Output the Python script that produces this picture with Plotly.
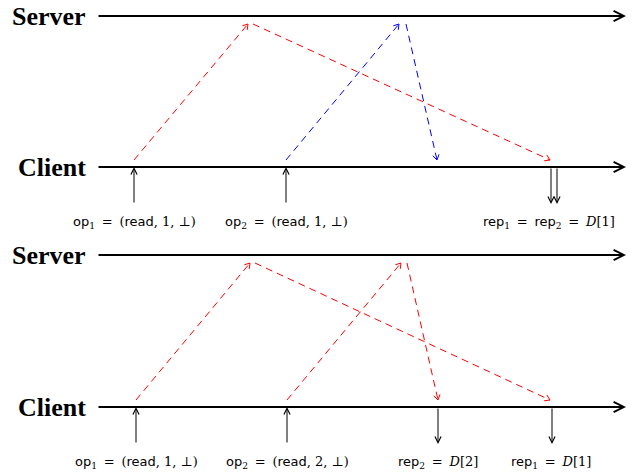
import numpy as np
import plotly.graph_objects as go

W, H = 639, 473

# ---- diagram data (two panels) ----
lanes = ["Server", "Client"]
lane_start = 97
lane_end = 626
server_y = [16, 255]
client_y = [167, 407]

# message events per panel: client send time, server receive, server send, client receive
send_t = [[134, 286], [136, 287]]
srv_recv_t = [[248, 399], [250, 401]]
srv_send_t = [[253, 406], [255, 407]]
cli_recv_t = [[550, 437], [550, 438]]
msg_colors = [["red", "blue"], ["red", "red"]]

op_index = [["1", "2"], ["1", "2"]]
op_value = [["1", "1"], ["1", "2"]]
rep_t = [[551, 557], [438, 552]]
rep_parts = [
    [(["1", "2"], "1", 549)],
    [(["2"], "2", 438), (["1"], "1", 551)],
]

SANS = "DejaVu Sans"
SERIF = "DejaVu Serif"
FS = 13

def sans(t):
    return f"<span style='font-family:{SANS}'>{t}</span>"

def serif(t):
    return f"<span style='font-family:{SERIF}'>{t}</span>"

EQ = serif("\u2009= \u2009")

def op_label(i, v):
    return sans("op") + serif(f"<sub>{i}</sub>") + " " + EQ + serif("(") + sans("read") + serif(f", {v}, \u22a5)")

def rep_label(idx, d):
    parts = [sans("rep") + serif(f"<sub>{k}</sub>") for k in idx]
    return (" " + EQ).join(parts) + " " + EQ + serif(f"<i>D</i>[{d}]")

fig = go.Figure()
ann = []

def arrow(x0, y0, x1, y1, color="black", width=1, size=1.2, head=5):
    ann.append(dict(x=x1, y=y1, ax=x0, ay=y0, xref="x", yref="y", axref="x", ayref="y",
                    showarrow=True, arrowhead=head, arrowsize=size, arrowwidth=width,
                    arrowcolor=color, standoff=0, startstandoff=0, text=""))

def dashed_arrow(x0, y0, x1, y1, color):
    fig.add_trace(go.Scatter(x=[x0, x1], y=[y0, y1], mode="lines",
                             line=dict(color=color, width=1, dash="7px,5px"),
                             hoverinfo="skip", showlegend=False))
    v = np.array([x1 - x0, y1 - y0], float)
    v /= np.linalg.norm(v)
    n = np.array([-v[1], v[0]])
    L, Wd = 5.0, 3.2
    a = np.array([x1, y1]) - L * v + Wd * n
    b = np.array([x1, y1]) - L * v - Wd * n
    fig.add_trace(go.Scatter(x=[a[0], x1, b[0]], y=[a[1], y1, b[1]], mode="lines",
                             line=dict(color=color, width=1),
                             hoverinfo="skip", showlegend=False))

gap_c, gap_s, tick = 7, 8, 37
for p in range(2):
    sy, cy = server_y[p], client_y[p]
    for name, yy in zip(lanes, [sy, cy]):
        arrow(lane_start, yy, lane_end, yy, width=2, size=1.0)
        ann.append(dict(x=88, y=yy, xref="x", yref="y", text=f"<b>{name}</b>", showarrow=False,
                        xanchor="right", yanchor="middle",
                        font=dict(family="Liberation Serif", size=26, color="black")))
    for i in range(2):
        c = msg_colors[p][i]
        dashed_arrow(send_t[p][i], cy - gap_c, srv_recv_t[p][i], sy + gap_s, c)
        dashed_arrow(srv_send_t[p][i], sy + gap_s, cli_recv_t[p][i], cy - gap_c, c)
        arrow(send_t[p][i], cy + tick, send_t[p][i], cy, width=1, size=1.2)
        ann.append(dict(x=send_t[p][i], y=cy + 55, xref="x", yref="y",
                        text=op_label(op_index[p][i], op_value[p][i]),
                        showarrow=False, xanchor="center", yanchor="middle",
                        font=dict(family=SANS, size=FS, color="black")))
    for t in rep_t[p]:
        arrow(t, cy, t, cy + tick, width=1, size=1.2)
    for idx, d, xx in rep_parts[p]:
        ann.append(dict(x=xx, y=cy + 55, xref="x", yref="y", text=rep_label(idx, d), showarrow=False,
                        xanchor="center", yanchor="middle",
                        font=dict(family=SANS, size=FS, color="black")))

fig.update_layout(width=W, height=H, margin=dict(l=0, r=0, t=0, b=0),
                  paper_bgcolor="white", plot_bgcolor="white", annotations=ann,
                  xaxis=dict(range=[0, W], visible=False, fixedrange=True),
                  yaxis=dict(range=[H, 0], visible=False, fixedrange=True),
                  showlegend=False)
fig.write_html("out.html", config={"displayModeBar": False},
               post_script="document.body.style.margin='0';document.body.style.overflow='hidden';")
